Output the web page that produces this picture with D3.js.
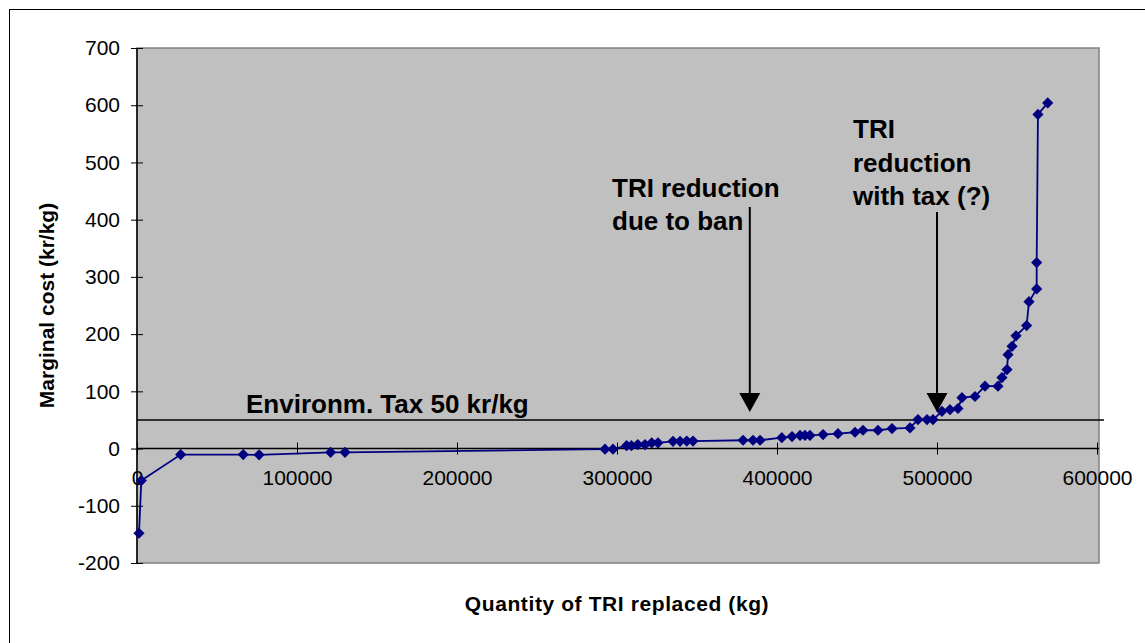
<!DOCTYPE html>
<html>
<head>
<meta charset="utf-8">
<script src="https://cdn.jsdelivr.net/npm/d3@7"></script>
<style>
  html, body { margin: 0; padding: 0; background: #ffffff; }
  svg { display: block; font-family: "Liberation Sans", Arial, sans-serif; }
</style>
</head>
<body>
<svg id="chart" width="1145" height="643"></svg>
<script>
// Cumulative quantity of TRI replaced (kg)
const quantity = [
  1250, 2700, 27300, 66400, 76300, 121000, 130000,
  292500, 297500, 306000, 309000, 313000, 317500, 321700, 325600,
  335000, 339400, 343600, 347500, 378800, 385000, 389400,
  403000, 409400, 414400, 417500, 420600, 428800, 438100, 448750,
  453750, 463100, 471900, 483100, 488100, 493750, 497500,
  503100, 508100, 513100, 515600, 523750, 530000, 538100,
  540600, 543750, 544400, 546900, 549400, 556000, 557500,
  562300, 562300, 563100, 569200
];
// Marginal cost at each step (kr/kg)
const marginalCost = [
  -148, -56, -10.5, -10.5, -11, -6.5, -6.5,
  -1, -1, 5, 5, 7, 7, 10, 10,
  12.7, 12.7, 13, 13, 14.5, 14.5, 14.5,
  19, 21, 23, 23, 23, 24.4, 26, 28.5,
  32, 32, 35, 36, 50.6, 50.6, 50.6,
  65, 68, 70, 89, 91, 109, 109,
  124, 138, 164, 178.6, 197, 215, 256.6,
  279, 325, 584, 604
];
const yTicks = [-200, -100, 0, 100, 200, 300, 400, 500, 600, 700];
const xTicks = [0, 100000, 200000, 300000, 400000, 500000, 600000];
const taxLevel = 50;
const banQuantity = 383000;
const taxQuantity = 500000;

const svg = d3.select("#chart");
const plot = { left: 137, right: 1099, top: 48, bottom: 563 };

const x = d3.scaleLinear().domain([0, 600000]).range([137, 1097]);
const y = d3.scaleLinear().domain([-200, 700]).range([563, 48]);
const plain = d => String(d);

// Outer frame
svg.append("rect")
  .attr("x", 9.5).attr("y", 9.5)
  .attr("width", 1145).attr("height", 643)
  .attr("fill", "#ffffff").attr("stroke", "#000000").attr("stroke-width", 1);

// Plot area
svg.append("rect")
  .attr("x", plot.left).attr("y", plot.top)
  .attr("width", plot.right - plot.left).attr("height", plot.bottom - plot.top)
  .attr("fill", "#c0c0c0").attr("stroke", "#808080").attr("stroke-width", 1.5);

// Y axis with crossing ticks
const yAxis = svg.append("g")
  .attr("transform", `translate(${plot.left},0)`)
  .call(d3.axisLeft(y).tickValues(yTicks).tickSize(6).tickPadding(11).tickFormat(plain));
yAxis.attr("font-size", 21).attr("font-family", "Liberation Sans, Arial, sans-serif");
yAxis.select(".domain").attr("stroke", "#000").attr("stroke-width", 1.5)
  .attr("d", `M0,${plot.top}V${plot.bottom}`);
yAxis.selectAll(".tick line").attr("x1", -6).attr("x2", 6).attr("stroke", "#000");
yAxis.selectAll(".tick text").attr("fill", "#000");

// X axis placed on the zero line
const xAxis = svg.append("g")
  .attr("transform", `translate(0,${y(0)})`)
  .call(d3.axisBottom(x).tickValues(xTicks).tickSize(6).tickPadding(16).tickFormat(plain));
xAxis.attr("font-size", 21).attr("font-family", "Liberation Sans, Arial, sans-serif");
xAxis.select(".domain").attr("stroke", "#000").attr("stroke-width", 1.5)
  .attr("d", `M${plot.left},0H${plot.right}`);
xAxis.selectAll(".tick line").attr("y1", -6).attr("y2", 6).attr("stroke", "#000");
xAxis.selectAll(".tick text").attr("fill", "#000");

// Environmental tax level
svg.append("line")
  .attr("x1", plot.left).attr("x2", 1104)
  .attr("y1", y(taxLevel)).attr("y2", y(taxLevel))
  .attr("stroke", "#000").attr("stroke-width", 1.5);
svg.append("text")
  .attr("x", 246).attr("y", 413)
  .attr("font-size", 26).attr("font-weight", "bold").attr("fill", "#000")
  .text("Environm. Tax 50 kr/kg");

// Marginal cost curve
const pts = quantity.map((q, i) => [q, marginalCost[i]]);
svg.append("path")
  .datum(pts)
  .attr("fill", "none").attr("stroke", "#000080").attr("stroke-width", 1.8)
  .attr("d", d3.line().x(d => x(d[0])).y(d => y(d[1])));
svg.append("g").selectAll("path")
  .data(pts)
  .join("path")
  .attr("transform", d => `translate(${x(d[0])},${y(d[1])})`)
  .attr("d", d3.symbol().type(d3.symbolDiamond2).size(80))
  .attr("fill", "#000080");

// Annotation arrows
function arrow(xq, yTop, yTip) {
  const xp = x(xq);
  svg.append("line")
    .attr("x1", xp).attr("x2", xp).attr("y1", yTop).attr("y2", yTip - 18)
    .attr("stroke", "#000").attr("stroke-width", 2);
  svg.append("path")
    .attr("d", `M${xp - 10.5},${yTip - 19}L${xp + 10.5},${yTip - 19}L${xp},${yTip}Z`)
    .attr("fill", "#000");
}
arrow(banQuantity, 207, 412);
arrow(taxQuantity, 212, 412);

function multiline(xp, y0, lh, lines) {
  const t = svg.append("text")
    .attr("x", xp).attr("y", y0)
    .attr("font-size", 26).attr("font-weight", "bold").attr("fill", "#000");
  lines.forEach((s, i) => t.append("tspan").attr("x", xp).attr("y", y0 + i * lh).text(s));
}
multiline(612, 197, 33, ["TRI reduction", "due to ban"]);
multiline(853, 138, 33.5, ["TRI", "reduction", "with tax (?)"]);

// Axis titles
svg.append("text")
  .attr("transform", `translate(54,${(plot.top + plot.bottom) / 2}) rotate(-90)`)
  .attr("text-anchor", "middle")
  .attr("font-size", 21).attr("font-weight", "bold").attr("fill", "#000")
  .text("Marginal cost (kr/kg)");
svg.append("text")
  .attr("x", 617).attr("y", 611)
  .attr("text-anchor", "middle")
  .attr("font-size", 21).attr("font-weight", "bold").attr("fill", "#000")
  .attr("letter-spacing", 0.6)
  .text("Quantity of TRI replaced (kg)");
</script>
</body>
</html>
